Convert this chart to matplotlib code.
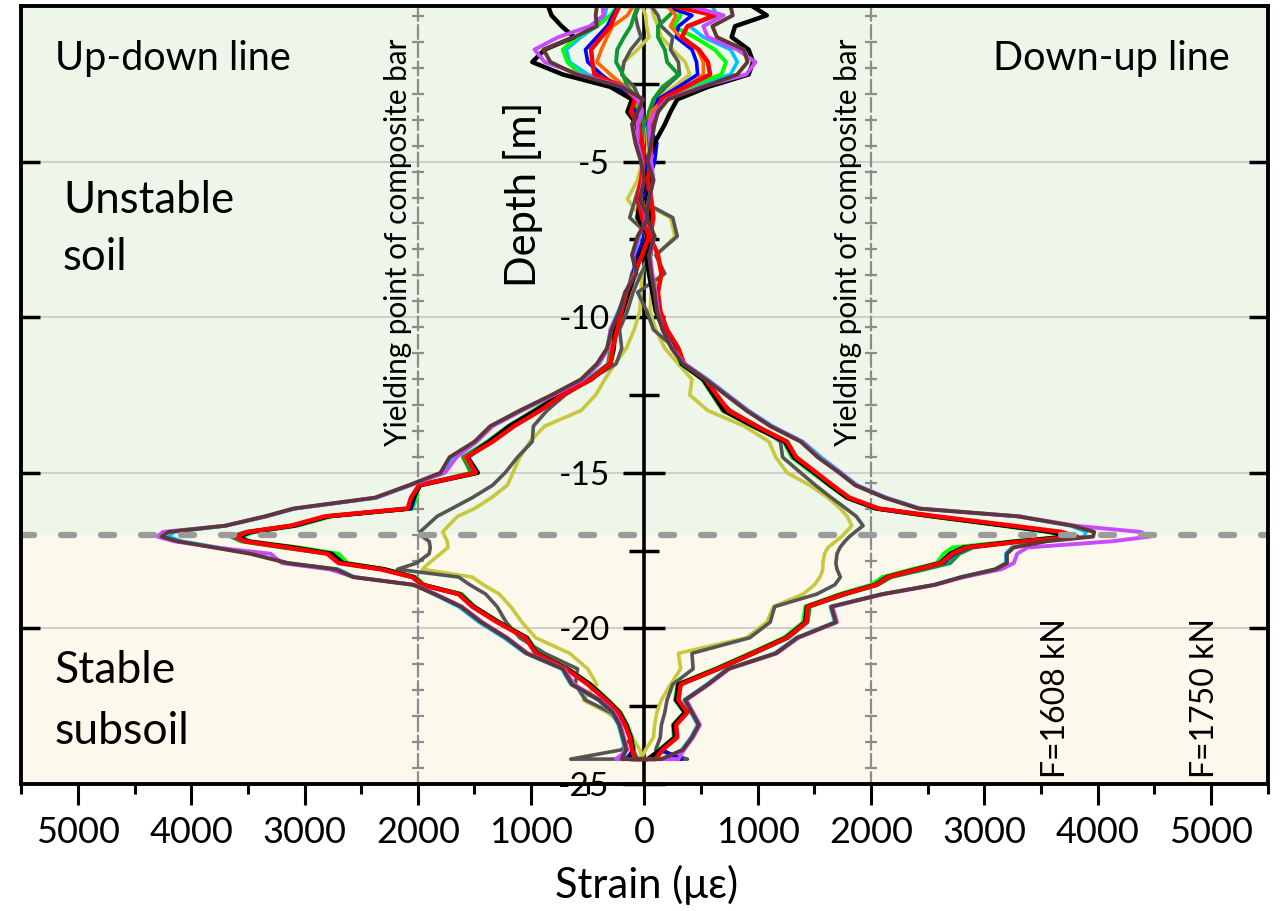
import numpy as np
import matplotlib
matplotlib.use('Agg')
import matplotlib.pyplot as plt
from matplotlib.ticker import MultipleLocator, FixedLocator, FuncFormatter

plt.rcParams['font.family'] = ['Lato', 'DejaVu Sans']
plt.rcParams['axes.unicode_minus'] = False

# depth along the pile (m); up-down line is read top->bottom, down-up line bottom->top
depth = [0, -0.3, -0.65, -1.0, -1.4, -1.8, -2.2, -2.6, -3.0, -3.4, -3.8,
         -4.4, -5.0, -5.6, -6.2, -6.8, -7.4, -8.0, -8.6, -9.2, -9.8, -10.4,
         -11.0, -11.5, -12.0, -12.5, -13.0, -13.5, -14.0, -14.5, -15.0, -15.4,
         -15.8, -16.15, -16.4, -16.7, -16.9, -17.05, -17.2, -17.4, -17.6, -17.9,
         -18.1, -18.35, -18.6, -18.9, -19.3, -19.8, -20.3, -20.8, -21.3, -21.8,
         -22.3, -22.7, -23.1, -23.5, -23.9, -24.2]

# strain (microstrain) per load step, up-down line (ud) and down-up line (du)
black_ud = [850, 820, 730, 620, 880, 990, 720, 300, 110, 150, 70,
            40, 20, -10, 40, 60, -30, 40, 80, 140, 190, 260,
            270, 300, 470, 740, 960, 1190, 1370, 1560, 1470, 1980, 2040, 2080, 2800, 3100, 3480, 3590,
            3510, 3100, 2760, 2660, 2300, 2040, 1960, 1630, 1510, 1290, 1040, 950, 680, 480, 330, 220, 160, 120, 100, 120]
black_du = [950, 1080, 800, 770, 920, 960, 920, 560, 290, 230, 180,
            90, 40, 60, 20, 50, 60, 10, 40, 70, 100, 170,
            280, 330, 520, 610, 700, 960, 1240, 1320, 1500, 1640, 1790, 2050, 2550, 3200, 3600, 3760,
            3300, 2820, 2700, 2610, 2400, 2140, 2040, 1750, 1434, 1420, 1250, 950, 640, 300, 280, 360, 260, 270, 140, 30]

blue_ud = [230, 280, 330, 420, 520, 500, 380, 240, 120, 80, 40,
           60, -20, -30, 20, 50, 0, 60, 100, 150, 200, 250,
           280, 310, 480, 740, 950, 1180, 1360, 1560, 1480, 1990, 2030, 2060, 2780, 3080, 3460, 3570,
           3500, 3120, 2780, 2690, 2320, 2050, 1960, 1640, 1510, 1290, 1050, 950, 690, 480, 340, 230, 160, 120, 100, 160]
blue_du = [180, 420, 300, 280, 420, 460, 470, 300, 120, 80, 30,
           110, 90, 40, 30, 60, 40, 20, 60, 90, 110, 180,
           290, 340, 530, 620, 720, 980, 1250, 1330, 1510, 1650, 1800, 2060, 2560, 3180, 3580, 3740,
           3320, 2860, 2740, 2640, 2420, 2150, 2040, 1760, 1440, 1430, 1260, 960, 650, 310, 290, 370, 270, 280, 150, 330]

red_ud = [220, 260, 300, 380, 470, 460, 440, 180, 80, 120, 60,
          20, 10, 30, 60, 20, -40, 20, 90, 160, 200, 240,
          280, 300, 470, 720, 920, 1150, 1340, 1570, 1490, 1990, 2060, 2090, 2820, 3120, 3500, 3610,
          3530, 3150, 2800, 2700, 2330, 2050, 1960, 1640, 1520, 1300, 1050, 960, 690, 500, 340, 230, 170, 130, 110, 80]
red_du = [250, 620, 380, 330, 480, 560, 580, 360, 150, 120, 60,
          60, 50, 30, 60, 80, 50, 120, 150, 120, 140, 200,
          300, 350, 540, 640, 740, 990, 1260, 1340, 1520, 1660, 1810, 2070, 2580, 3250, 3680, 3820,
          3350, 2840, 2720, 2620, 2410, 2150, 2050, 1760, 1440, 1430, 1260, 960, 650, 320, 300, 380, 280, 290, 160, 100]

lime_ud = [240, 300, 420, 600, 720, 680, 560, 200, 110, 60, 30,
           30, 0, 10, 50, 40, -10, 50, 100, 150, 210, 270,
           290, 310, 490, 760, 980, 1200, 1390, 1600, 1520, 2000, 2010, 2050, 2760, 3060, 3440, 3560,
           3480, 3050, 2700, 2620, 2280, 2020, 1940, 1610, 1500, 1280, 1030, 940, 670, 470, 320, 210, 150, 110, 90, 120]
lime_du = [300, 320, 260, 440, 620, 720, 680, 380, 160, 80, 50,
           70, 30, 50, 40, 60, 70, 30, 60, 80, 100, 170,
           270, 320, 510, 600, 690, 950, 1230, 1300, 1480, 1630, 1780, 2040, 2520, 3150, 3550, 3700,
           3250, 2720, 2640, 2580, 2360, 2100, 2000, 1720, 1420, 1400, 1230, 930, 620, 290, 270, 350, 250, 260, 130, 60]

dkgreen_ud = [60, 90, 120, 180, 240, 250, 190, 150, 60, 40, 20,
              20, 10, 20, 60, 40, -20, 40, 110, 150, 210, 280,
              300, 320, 500, 760, 970, 1200, 1380, 1600, 1530, 1990, 2030, 2060, 2790, 3110, 3520, 3650,
              3560, 3200, 2790, 2680, 2290, 2030, 1950, 1620, 1500, 1280, 1040, 940, 680, 480, 330, 220, 160, 120, 100, 60]
dkgreen_du = [300, 220, 120, 120, 180, 200, 300, 160, 80, 40, 20,
              60, 40, 50, 30, 50, 80, 30, 50, 80, 100, 170,
              280, 330, 520, 610, 710, 960, 1240, 1310, 1500, 1640, 1790, 2050, 2540, 3180, 3580, 3720,
              3330, 2900, 2780, 2700, 2480, 2180, 2060, 1780, 1460, 1440, 1270, 970, 660, 320, 300, 370, 270, 280, 150, 80]

orange_ud = [100, 150, 280, 330, 380, 420, 300, 170, 70, 30, 50,
             50, 30, 0, 30, 70, -20, 30, 80, 130, 190, 250,
             290, 310, 480, 740, 950, 1170, 1350, 1580, 1490, 1990, 2050, 2080, 2800, 3100, 3490, 3600,
             3520, 3120, 2770, 2670, 2300, 2040, 1960, 1630, 1510, 1290, 1040, 950, 680, 480, 330, 220, 160, 120, 100, 100]
orange_du = [200, 280, 230, 320, 470, 520, 520, 380, 170, 60, 40,
             80, 50, 40, 30, 70, 60, 20, 50, 80, 110, 180,
             290, 340, 530, 620, 720, 970, 1250, 1330, 1510, 1650, 1800, 2060, 2570, 3220, 3640, 3790,
             3320, 2830, 2710, 2620, 2400, 2140, 2040, 1750, 1440, 1420, 1250, 950, 640, 310, 290, 370, 270, 280, 150, 70]

cyan_ud = [330, 350, 420, 560, 690, 660, 500, 160, 60, 30, 40,
           50, 20, 20, 50, 0, 40, 90, 80, 160, 230, 300,
           330, 410, 560, 810, 1090, 1350, 1490, 1700, 1780, 2060, 2360, 3080, 3330, 3690, 4150, 4200,
           4080, 3760, 3460, 3140, 2700, 2560, 2030, 1860, 1640, 1460, 1240, 1050, 730, 650, 410, 290, 230, 200, 170, 180]
cyan_du = [600, 640, 400, 520, 760, 820, 760, 400, 150, 80, 40,
           60, 40, 70, 50, 30, 80, 40, 60, 90, 110, 170,
           260, 360, 560, 740, 920, 1130, 1400, 1560, 1740, 1880, 2140, 2440, 3290, 3760, 3900, 3880,
           3500, 3240, 3190, 3190, 3090, 2790, 2550, 2090, 1640, 1680, 1340, 1150, 730, 550, 350, 410, 470, 410, 330, 200]

violet_ud = [370, 360, 480, 760, 970, 880, 570, 180, 60, 20, 60,
             60, 20, 10, 40, -20, 50, 100, 80, 170, 220, 300,
             320, 400, 540, 800, 1080, 1340, 1480, 1660, 1760, 2070, 2370, 3090, 3340, 3700, 4250, 4300,
             4150, 3780, 3300, 3200, 2780, 2560, 2030, 1840, 1610, 1430, 1210, 1030, 710, 620, 390, 270, 210, 180, 150, 250]
violet_du = [400, 700, 520, 560, 820, 980, 900, 500, 200, 100, 40,
             50, 60, 80, 40, 10, 90, 50, 70, 100, 120, 160,
             250, 350, 550, 730, 910, 1120, 1390, 1540, 1730, 1870, 2130, 2430, 3310, 3800, 4380, 4460,
             4130, 3380, 3290, 3260, 3150, 2820, 2570, 2110, 1660, 1700, 1360, 1170, 750, 570, 370, 430, 490, 430, 350, 300]

brown_ud = [420, 430, 420, 620, 890, 830, 600, 200, 10, 60, 110,
            80, 30, 0, 40, -30, 60, 110, 70, 170, 220, 290,
            330, 420, 560, 820, 1100, 1360, 1500, 1720, 1800, 2080, 2380, 3100, 3350, 3700, 4200, 4260,
            4120, 3800, 3480, 3150, 2720, 2573, 2040, 1850, 1620, 1440, 1220, 1040, 720, 640, 400, 280, 220, 190, 160, 200]
brown_du = [760, 780, 600, 640, 880, 910, 820, 520, 210, 120, 90,
            60, 30, 80, 40, 20, 90, 40, 60, 90, 110, 160,
            240, 340, 540, 720, 900, 1110, 1380, 1530, 1720, 1860, 2120, 2420, 3300, 3780, 3970, 3960,
            3550, 3260, 3200, 3200, 3100, 2800, 2560, 2100, 1650, 1690, 1350, 1160, 740, 560, 360, 420, 480, 420, 340, 150]

gray_ud = [50, 80, 60, 30, 120, 180, 200, 90, 40, 20, 10,
           20, -20, 30, 80, 130, -50, -60, 30, 100, 150, 220,
           200, 250, 480, 700, 860, 980, 990, 1120, 1230, 1340, 1520, 1700, 1830, 1920, 1980, 1960,
           1900, 1890, 1900, 2010, 2180, 1640, 1540, 1400, 1300, 1220, 1100, 880, 590, 610, 520, 300, 170, 110, 200, 650]
gray_du = [60, 120, 150, 250, 230, 300, 310, 190, 80, 60, 30,
           40, 60, 20, -60, 250, 290, 100, 180, -60, 20, 80,
           270, 340, 510, 620, 760, 1000, 1200, 1220, 1380, 1510, 1650, 1780, 1870, 1930, 1860, 1810,
           1770, 1726, 1700, 1690, 1700, 1730, 1680, 1520, 1150, 1110, 930, 420, 430, 250, 200, 180, 150, 140, 100, 380]

olive_ud = [20, -10, -20, -40, 60, 180, 200, 100, 40, 20, 10,
            10, 20, 60, 150, 30, -60, -30, 20, 30, 40, 90,
            160, 260, 350, 430, 560, 880, 1010, 1100, 1160, 1210, 1350, 1500, 1650, 1730, 1780, 1760,
            1740, 1734, 1800, 1900, 1960, 1520, 1420, 1280, 1180, 1080, 960, 660, 500, 420, 540, 330, 180, 110, 40, 20]
olive_du = [60, 80, 120, 150, 250, 360, 400, 260, 90, 50, 20,
            30, 40, -30, -80, 230, 270, 110, 150, 60, 50, 100,
            180, 300, 420, 400, 560, 880, 1100, 1160, 1260, 1460, 1620, 1730, 1790, 1830, 1780, 1740,
            1690, 1620, 1590, 1575, 1575, 1550, 1500, 1400, 1140, 1080, 900, 300, 320, 230, 150, 110, 90, 80, 10, -30]

yield_strain = 2000
boundary_depth = -17

series = [
    (olive_ud, olive_du, '#C8C83C', 2.6),
    (gray_ud, gray_du, '#555555', 2.6),
    (cyan_ud, cyan_du, '#00C0FF', 2.6),
    (lime_ud, lime_du, '#00FF00', 2.8),
    (dkgreen_ud, dkgreen_du, '#0C9A30', 2.8),
    (blue_ud, blue_du, '#0000FF', 2.6),
    (orange_ud, orange_du, '#FF6600', 2.6),
    (black_ud, black_du, '#000000', 3.2),
    (red_ud, red_du, '#FF0000', 3.2),
    (violet_ud, violet_du, '#C84BFF', 2.8),
    (brown_ud, brown_du, '#5E3838', 2.8),
]

fig = plt.figure(figsize=(12.81, 9.11), dpi=100)
rect = [0.0166, 0.1394, 0.9729, 0.854]
ax = fig.add_axes(rect)
ax.set_xlim(-5500, 5500)
ax.set_ylim(-25, 0)

ax.axhspan(boundary_depth, 0, color='#EEF5E9', lw=0, zorder=0)
ax.axhspan(-25, boundary_depth, color='#FDF8EC', lw=0, zorder=0)

# yielding point lines
marks = np.arange(-0.32, -25, -25 / 30)
for xv in (-yield_strain, yield_strain):
    ax.plot([xv, xv], [0, -25], color='#8C8C8C', lw=1.6, dashes=(7, 1.2), zorder=1)
    ax.plot(np.full(len(marks), xv), marks, ls='none', marker='_', ms=8,
            mew=1.6, color='#8C8C8C', zorder=1)

for ud, du, col, lw in series:
    x = [-v for v in ud] + du[::-1]
    y = depth + depth[::-1]
    ax.plot(x, y, color=col, lw=lw, zorder=3, solid_joinstyle='round',
            solid_capstyle='round')

ax.axhline(boundary_depth, color='#9B9B9B', lw=4.5, dashes=(2.1, 4.3),
           dash_capstyle='round', zorder=4)

# axes styling
ax.xaxis.set_major_locator(MultipleLocator(1000))
ax.xaxis.set_minor_locator(MultipleLocator(500))
ax.xaxis.set_major_formatter(FuncFormatter(lambda v, p: f'{abs(v):.0f}'))
ax.tick_params(axis='x', which='major', direction='out', length=15, width=2.2,
               labelsize=26, pad=8)
ax.tick_params(axis='x', which='minor', direction='out', length=7, width=2.2)

ax.yaxis.set_major_locator(FixedLocator([-25, -20, -15, -10, -5, 0]))
ax.yaxis.set_minor_locator(MultipleLocator(2.5))
ax.yaxis.set_major_formatter(FuncFormatter(lambda v, p: '' if v == 0 else f'{v:.0f}'))
ax.tick_params(axis='y', which='major', direction='inout', length=30, width=2.5,
               labelsize=24, pad=10)
ax.tick_params(axis='y', which='minor', direction='inout', length=22, width=2.5)
ax.yaxis.grid(True, which='major', color='#CBCBCB', lw=1.3)
ax.set_axisbelow(True)

ax.spines['left'].set_position(('data', 0))
ax.spines['left'].set_linewidth(2.6)
ax.spines['bottom'].set_linewidth(2.8)
ax.spines['top'].set_visible(False)
ax.spines['right'].set_visible(False)

# outer frame with inward ticks
ax2 = fig.add_axes(rect, facecolor='none')
ax2.set_xlim(-5500, 5500)
ax2.set_ylim(-25, 0)
ax2.set_xticks([])
ax2.yaxis.set_major_locator(FixedLocator([-20, -15, -10, -5]))
ax2.tick_params(axis='y', direction='in', length=14, width=2.5, left=True,
                right=True, labelleft=False)
ax2.spines['bottom'].set_visible(False)
for s in ('left', 'right', 'top'):
    ax2.spines[s].set_linewidth(2.8)

# labels and annotations
ax.text(-1070, -6.05, 'Depth [m]', rotation=90, ha='center', va='center', fontsize=30)
fig.text(0.505, 0.0285, 'Strain (με)', ha='center', va='center', fontsize=30)

ax.text(-5203, -2.06, 'Up-down line', fontsize=28.5, ha='left', va='baseline', zorder=5)
ax.text(5168, -2.06, 'Down-up line', fontsize=28.5, ha='right', va='baseline', zorder=5)
ax.text(-5132, -6.66, 'Unstable', fontsize=31.5, ha='left', va='baseline', zorder=5)
ax.text(-5132, -8.49, 'soil', fontsize=31.5, ha='left', va='baseline', zorder=5)
ax.text(-5203, -21.77, 'Stable', fontsize=32, ha='left', va='baseline', zorder=5)
ax.text(-5203, -23.7, 'subsoil', fontsize=32, ha='left', va='baseline', zorder=5)

for xv in (-2176, 1796):
    ax.text(xv, -14.15, 'Yielding point of composite bar', rotation=90, ha='center',
            va='bottom', fontsize=21.4, zorder=5)
ax.text(3632, -24.8, 'F=1608 kN', rotation=90, ha='center', va='bottom', fontsize=23, zorder=5)
ax.text(4948, -24.8, 'F=1750 kN', rotation=90, ha='center', va='bottom', fontsize=23, zorder=5)

fig.savefig('out.png', dpi=100, facecolor='white')
